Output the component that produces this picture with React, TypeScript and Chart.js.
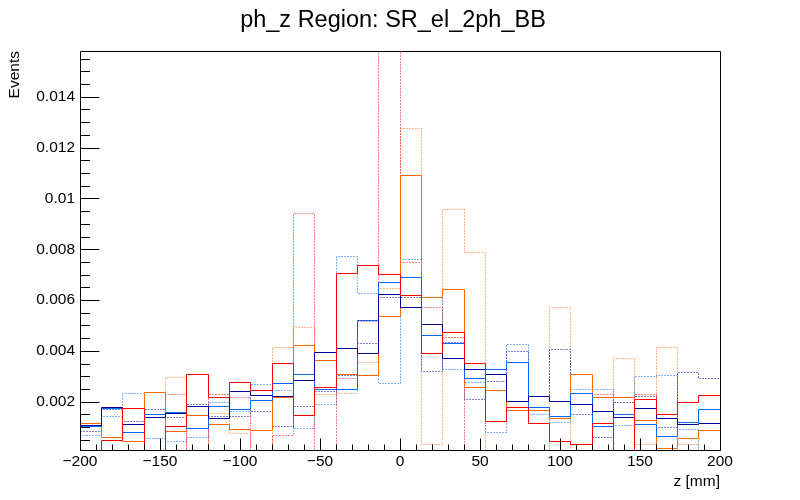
import React, { useEffect, useRef } from "react";
import { Chart, registerables } from "chart.js";

Chart.register(...registerables);

const TITLE = "ph_z Region: SR_el_2ph_BB";
const X_TITLE = "z [mm]";
const Y_TITLE = "Events";

const X_MIN = -200;
const X_MAX = 200;
const N_BINS = 30;
const Y_MIN = 0.0001;
const Y_MAX = 0.0158;

const X_TICKS = [-200, -150, -100, -50, 0, 50, 100, 150, 200];
const X_MINOR_STEP = 10;
const Y_TICKS = [0.002, 0.004, 0.006, 0.008, 0.01, 0.012, 0.014];
const Y_MINOR_STEP = 0.0005;

// 30 bins from -200 to 200
const RED_SOLID = [
  0, 0.00049, 0.00175, 0, 0.00101, 0.00309, 0.00215, 0.00274, 0.00243, 0.0035,
  0.00147, 0.00256, 0.00703, 0.00735, 0.007, 0.00617, 0.00388, 0.00471, 0.00349, 0.00121,
  0.00179, 0.00116, 0.00045, 0.00033, 0.00116, 0, 0.00207, 0.00151, 0.00195, 0.00226,
];
const RED_DOTTED = [
  0, 0, 0, 0, 0.0023, 0, 0.0023, 0.00218, 0, 0.00069,
  0.0094, 0, 0.0029, 0.00514, 0.02, 0.00747, 0.00572, 0.00451, 0, 0,
  0, 0, 0, 0, 0.0023, 0, 0.0023, 0, 0, 0,
];
const ORANGE_SOLID = [
  0.00116, 0.00061, 0.00042, 0.00238, 0.00082, 0.00147, 0.00112, 0.00092, 0.00088, 0.00215,
  0.0042, 0.00364, 0.00309, 0.00303, 0.00534, 0.0109, 0.00609, 0.0064, 0.00254, 0.00246,
  0.00167, 0.00167, 0.00132, 0.00309, 0.00215, 0.00218, 0.00128, 0.00017, 0.00057, 0.00088,
];
const ORANGE_DOTTED = [
  0, 0, 0, 0, 0.00297, 0, 0.00155, 0.00073, 0, 0.00412,
  0.00492, 0.0023, 0.00234, 0.00355, 0.00644, 0.01275, 0.00033, 0.00956, 0.00788, 0,
  0, 0, 0.0057, 0, 0, 0.00372, 0.00033, 0.00412, 0.00033, 0,
];
const AZURE_SOLID = [
  0.00103, 0.00175, 0.00077, 0.00148, 0.00157, 0.00096, 0.00183, 0.00168, 0.00204, 0.00271,
  0.00309, 0.0025, 0.0025, 0.00518, 0.00668, 0.00688, 0.00459, 0.00428, 0.00293, 0.00325,
  0.00356, 0.00179, 0.0014, 0.00234, 0.00104, 0.00151, 0.00112, 0.00065, 0.0012, 0.00171,
];
const AZURE_DOTTED = [
  0.00069, 0.0014, 0.00234, 0.00057, 0.00042, 0.00061, 0.00195, 0.00163, 0.00266, 0.00246,
  0.00094, 0.00191, 0.0077, 0.00625, 0.0027, 0.00759, 0.00609, 0.00325, 0.00274, 0.00077,
  0.00424, 0.00148, 0.0012, 0.0025, 0.0025, 0.00108, 0.00301, 0.00305, 0.00092, 0,
];
const NAVY_SOLID = [
  0.00107, 0.00178, 0.00112, 0.00136, 0.00153, 0.00183, 0.00133, 0.00239, 0.00226, 0.00219,
  0.00282, 0.00392, 0.00408, 0.00388, 0.00621, 0.00569, 0.00502, 0.00372, 0.00325, 0.00309,
  0.00199, 0.00222, 0.00199, 0.00191, 0.00163, 0.00136, 0.00175, 0.00132, 0.00112, 0.00116,
];
const NAVY_DOTTED = [
  0.00082, 0.0017, 0.00124, 0.0017, 0.00136, 0.00191, 0.0014, 0.0014, 0.00163, 0.00104,
  0.00183, 0.0024, 0.00305, 0.00431, 0.00609, 0.00609, 0.0032, 0.00434, 0.00207, 0.00278,
  0.00396, 0.0022, 0.00404, 0.00148, 0.00061, 0.00195, 0.00222, 0.001, 0.00314, 0.00293,
];

const RED = "#ff0000";
const ORANGE = "#ff6600";
const AZURE = "#0066ff";
const NAVY = "#000099";

const FONT = '"Liberation Sans", Arial, Helvetica, sans-serif';

const SERIES = [
  { label: "red", values: RED_SOLID, color: RED, dotted: false },
  { label: "navy", values: NAVY_SOLID, color: NAVY, dotted: false },
  { label: "azure", values: AZURE_SOLID, color: AZURE, dotted: false },
  { label: "orange", values: ORANGE_SOLID, color: ORANGE, dotted: false },
  { label: "red dotted", values: RED_DOTTED, color: RED, dotted: true },
  { label: "navy dotted", values: NAVY_DOTTED, color: NAVY, dotted: true },
  { label: "azure dotted", values: AZURE_DOTTED, color: AZURE, dotted: true },
  { label: "orange dotted", values: ORANGE_DOTTED, color: ORANGE, dotted: true },
];

function binLow(i: number) {
  return X_MIN + ((X_MAX - X_MIN) * i) / N_BINS;
}

function toSteps(values: number[]) {
  const pts = values.map((v, i) => ({ x: binLow(i), y: Math.max(v, Y_MIN) }));
  pts.push({ x: X_MAX, y: Math.max(values[values.length - 1], Y_MIN) });
  return pts;
}

const fmtX = (v: number) => (v < 0 ? "\u2212" + Math.abs(v) : String(v));
const fmtY = (v: number) => String(Number(v.toFixed(4)));

const snap = (v: number) => Math.floor(v) + 0.5;

// Snap the histogram outlines to whole pixels, like ROOT does.
const patched: any = {};
function patchProto(proto: any, key: string) {
  if (!proto) return;
  const origMove = proto.moveTo;
  const origLine = proto.lineTo;
  patched[key] = { proto, origMove, origLine };
  proto.moveTo = function (x: number, y: number) {
    return origMove.call(this, snap(x), snap(y));
  };
  proto.lineTo = function (x: number, y: number) {
    return origLine.call(this, snap(x), snap(y));
  };
}
function unpatchAll() {
  Object.keys(patched).forEach((k) => {
    const p = patched[k];
    p.proto.moveTo = p.origMove;
    p.proto.lineTo = p.origLine;
    delete patched[k];
  });
}

const crispPlugin = {
  id: "crisp",
  beforeDatasetsDraw() {
    unpatchAll();
    if (typeof Path2D === "function") patchProto(Path2D.prototype, "path2d");
    patchProto(CanvasRenderingContext2D.prototype, "ctx");
  },
  afterDatasetsDraw() {
    unpatchAll();
  },
};

const rootPlugin = {
  id: "rootStyle",
  afterDatasetsDraw(chart: any) {
    unpatchAll();
    const { ctx, chartArea: a, scales } = chart;
    const xs = scales.x;
    const ys = scales.y;
    const L = Math.round(a.left) + 0.5;
    const R = Math.round(a.right) + 0.5;
    const T = Math.round(a.top) + 0.5;
    const B = Math.round(a.bottom) + 0.5;
    ctx.save();
    ctx.strokeStyle = "#000";
    ctx.lineWidth = 1;
    ctx.setLineDash([]);
    ctx.beginPath();
    ctx.rect(L, T, R - L, B - T);
    for (let v = X_MIN; v <= X_MAX + 1e-9; v += X_MINOR_STEP) {
      const px = Math.round(xs.getPixelForValue(v)) + 0.5;
      const major = X_TICKS.includes(v);
      const len = major ? 12 : 6;
      ctx.moveTo(px, B);
      ctx.lineTo(px, B - len);
    }
    for (let k = 1; k * Y_MINOR_STEP <= Y_MAX + 1e-12; k++) {
      const v = k * Y_MINOR_STEP;
      if (v < Y_MIN) continue;
      const py = Math.round(ys.getPixelForValue(v)) + 0.5;
      const major = k % 4 === 0;
      const len = major ? 19 : 9.5;
      ctx.moveTo(L, py);
      ctx.lineTo(L + len, py);
    }
    ctx.stroke();
    ctx.restore();
  },
  afterDraw(chart: any) {
    const { ctx, chartArea: a } = chart;
    ctx.save();
    ctx.fillStyle = "#000";
    ctx.font = `23.5px ${FONT}`;
    ctx.textAlign = "center";
    ctx.textBaseline = "alphabetic";
    ctx.fillText(TITLE, 393, 27);
    ctx.font = `15.5px ${FONT}`;
    ctx.textAlign = "right";
    ctx.fillText(X_TITLE, a.right, 486);
    ctx.translate(19, a.top);
    ctx.rotate(-Math.PI / 2);
    ctx.textAlign = "right";
    ctx.fillText(Y_TITLE, 0, 0);
    ctx.restore();
  },
};

export default function App() {
  const ref = useRef<HTMLCanvasElement | null>(null);

  useEffect(() => {
    document.body.style.margin = "0";
    const canvas = ref.current;
    if (!canvas) return;
    const chart = new Chart(canvas, {
      type: "line",
      data: {
        datasets: SERIES.map((s) => ({
          label: s.label,
          data: toSteps(s.values),
          borderColor: s.color,
          backgroundColor: s.color,
          borderWidth: 1,
          borderDash: s.dotted ? [1, 2] : [],
          pointRadius: 0,
          stepped: "before" as const,
          fill: false,
          tension: 0,
        })),
      },
      options: {
        responsive: false,
        animation: false,
        devicePixelRatio: 1,
        layout: { padding: { left: 8, right: 80, top: 51, bottom: 0 } },
        plugins: {
          legend: { display: false },
          tooltip: { enabled: false },
          title: { display: false },
        },
        scales: {
          x: {
            type: "linear",
            min: X_MIN,
            max: X_MAX,
            grid: { display: false, drawTicks: false },
            border: { display: false },
            afterBuildTicks: (s: any) => {
              s.ticks = X_TICKS.map((v) => ({ value: v }));
            },
            afterFit: (s: any) => {
              s.height = 50;
            },
            ticks: {
              autoSkip: false,
              maxRotation: 0,
              padding: 2,
              color: "#000",
              font: { family: FONT, size: 15.5 },
              callback: (v: any) => fmtX(Number(v)),
            },
          },
          y: {
            type: "linear",
            min: Y_MIN,
            max: Y_MAX,
            grid: { display: false, drawTicks: false },
            border: { display: false },
            afterBuildTicks: (s: any) => {
              s.ticks = Y_TICKS.map((v) => ({ value: v }));
            },
            afterFit: (s: any) => {
              s.width = 72;
            },
            ticks: {
              autoSkip: false,
              padding: 5,
              color: "#000",
              font: { family: FONT, size: 15.5 },
              callback: (v: any) => fmtY(Number(v)),
            },
          },
        },
      },
      plugins: [crispPlugin, rootPlugin],
    });
    return () => {
      unpatchAll();
      chart.destroy();
    };
  }, []);

  return (
    <div style={{ width: 800, height: 500, background: "#fff" }}>
      <canvas ref={ref} width={800} height={500} style={{ display: "block" }} />
    </div>
  );
}
